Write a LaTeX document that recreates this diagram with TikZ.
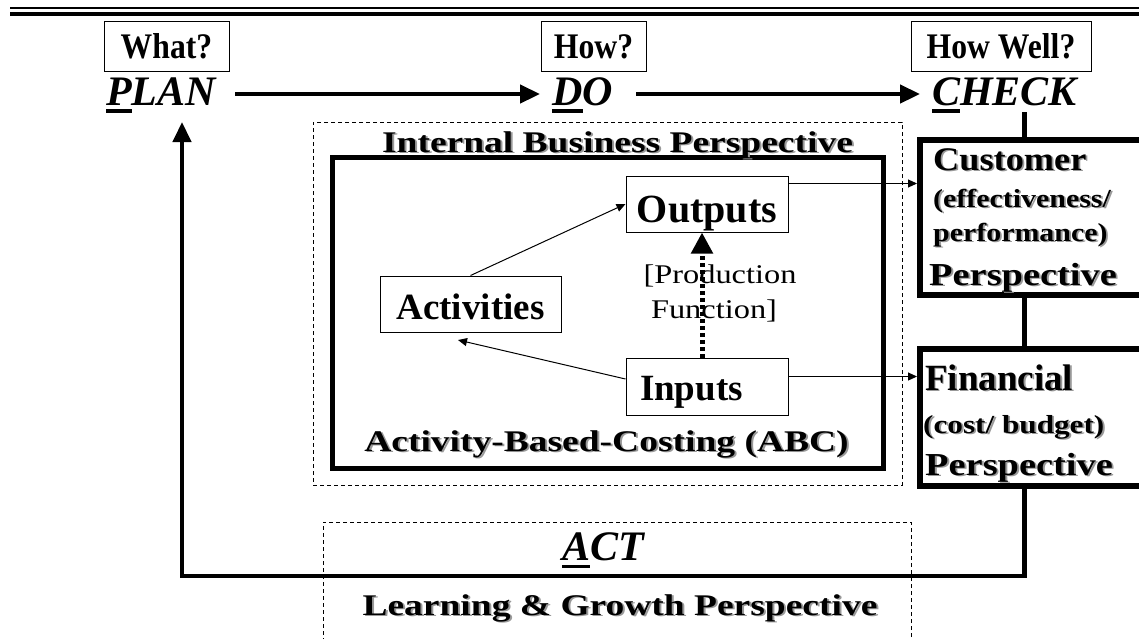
\documentclass[tikz,border=0pt]{standalone}
\usepackage{fontspec}
\setmainfont{Liberation Serif}
\usetikzlibrary{arrows.meta}
\newcommand{\fsz}[1]{\fontsize{#1}{#1}\selectfont}
\newcommand{\shd}[1]{\makebox[0pt][l]{\hspace{1.6pt}\raisebox{-1.6pt}{\textcolor{black!40}{#1}}}#1}
\newcommand{\ulbar}[2]{\setbox0\hbox{#2}\rlap{\rule[-8pt]{\wd0}{#1}}#2}
\tikzset{
  qbox/.style={draw, line width=1pt, inner sep=0pt, text height=25pt, text depth=0pt, font=\fsz{36}\bfseries},
  pdca/.style={inner sep=0pt, text height=22pt, text depth=0pt, anchor=base west, font=\fsz{42}\bfseries\itshape},
  ibox/.style={draw, line width=1pt, inner sep=0pt, text depth=0pt, font=\fsz{37}\bfseries},
  pbox/.style={draw, line width=6pt, inner sep=0pt},
  abcbox/.style={draw, line width=5pt, inner sep=0pt},
  dbox/.style={draw, line width=0.8pt, dash pattern=on 4pt off 3pt, inner sep=0pt},
  lbl/.style={inner sep=0pt, anchor=base},
  lblw/.style={inner sep=0pt, anchor=base west},
  heavy/.style={line width=4.5pt},
  bigarrow/.style={line width=4.5pt, -{Triangle[length=20pt,width=18pt]}},
  thinarrow/.style={line width=1pt, -{Triangle[length=9pt,width=8pt]}},
  dotarrow/.style={line width=5pt, dash pattern=on 4pt off 3pt, -{Triangle[length=21pt,width=21pt]}}
}
\begin{document}
\begin{tikzpicture}[x=1pt,y=-1pt]
\useasboundingbox (0,0) rectangle (1139,638);
\fill[white] (0,0) rectangle (1139,638);
\clip (0,0) rectangle (1139,638);
% header rule
\draw[line width=1.5pt] (10,8) -- (1139,8);
\draw[line width=4pt] (10,14) -- (1139,14);
% question boxes
\node[qbox, minimum width=125pt, minimum height=50pt] (what) at (166.5,46) {\scalebox{0.88}[1]{What?}};
\node[qbox, minimum width=105pt, minimum height=50pt] (how) at (593.5,46) {\scalebox{0.88}[1]{How?}};
\node[qbox, minimum width=180pt, minimum height=50pt] (howwell) at (1001,46) {\scalebox{0.88}[1]{How Well?}};
% PDCA words
\node[pdca] (plan) at (106,105) {\ulbar{4pt}{P}LAN};
\node[pdca] (do) at (552,105) {\ulbar{4pt}{D}O};
\node[pdca] (check) at (932,105) {\ulbar{4pt}{C}HECK};
\node[pdca] (act) at (562,560) {\ulbar{3.5pt}{A}CT};
% dashed perspective frames
\node[dbox, minimum width=589pt, minimum height=363pt] (ibp) at (607.5,303.5) {};
\node[dbox, minimum width=588pt, minimum height=150pt] (lg) at (617,597) {};
% ABC frame
\node[abcbox, minimum width=550.5pt, minimum height=310.5pt] (abc) at (607.75,312.75) {};
\node[lbl, font=\fsz{30}\bfseries] (ibplbl) at (617.5,152) {\scalebox{1.25}[1]{\shd{Internal Business Perspective}}};
\node[lbl, font=\fsz{30}\bfseries] (abclbl) at (606.5,451) {\scalebox{1.25}[1]{\shd{Activity-Based-Costing (ABC)}}};
\node[lbl, font=\fsz{30}\bfseries] (lglbl) at (620,615) {\scalebox{1.25}[1]{\shd{Learning \& Growth Perspective}}};
% inner boxes
\node[ibox, font=\fsz{40}\bfseries, text height=36pt, minimum width=162pt, minimum height=56pt] (outputs) at (707,204) {Outputs};
\node[ibox, text height=27pt, minimum width=162pt, minimum height=57pt, text width=134pt, inner xsep=14pt, align=left] (inputs) at (707,386.5) {Inputs};
\node[ibox, text height=30pt, minimum width=181pt, minimum height=56pt] (acts) at (470.5,304) {Activities};
\node[lbl, font=\fsz{27}] (prod1) at (720,283) {\scalebox{1.2}[1]{[Production}};
\node[lbl, font=\fsz{27}] (prod2) at (714,318) {\scalebox{1.2}[1]{Function]}};
% perspective boxes
\node[pbox, minimum width=240pt, minimum height=154.5pt] (cust) at (1040,217.25) {};
\node[pbox, minimum width=240pt, minimum height=137pt] (fin) at (1040,417) {};
\node[lblw, font=\fsz{33}\bfseries] (c1) at (933,170) {\scalebox{1.1}[1]{\shd{Customer}}};
\node[lblw, font=\fsz{26}\bfseries] (c2) at (933,207) {\scalebox{1.15}[1]{\shd{(effectiveness/}}};
\node[lblw, font=\fsz{26}\bfseries] (c3) at (933,241) {\scalebox{1.15}[1]{\shd{performance)}}};
\node[lblw, font=\fsz{32}\bfseries] (c4) at (929,285) {\scalebox{1.2}[1]{\shd{Perspective}}};
\node[lblw, font=\fsz{37}\bfseries] (f1) at (925,390) {\shd{Financial}};
\node[lblw, font=\fsz{26}\bfseries] (f2) at (923,433) {\scalebox{1.2}[1]{\shd{(cost/ budget)}}};
\node[lblw, font=\fsz{32}\bfseries] (f3) at (925,475) {\scalebox{1.2}[1]{\shd{Perspective}}};
% coordinates
\coordinate (spine) at (1024.5,0);
\coordinate (chk) at ([yshift=-7pt]check.south);
\coordinate (loopL) at (182,576);
\coordinate (planin) at (182,122);
\coordinate (actin) at (458,340);
\coordinate (o1) at ([yshift=-8pt]outputs.north east);
\coordinate (i1) at ([yshift=-19pt]inputs.north east);
\coordinate (ii) at ([yshift=7.5pt]inputs.west);
\coordinate (dotS) at ([xshift=-5pt]inputs.north);
\coordinate (dotE) at ([xshift=-5pt]outputs.south);
% connectors
\draw[bigarrow, shorten <=19pt, shorten >=12pt] (plan.east) -- (do.west);
\draw[bigarrow, shorten <=23pt, shorten >=12pt] (do.east) -- (check.west);
\draw[heavy] (chk -| spine) -- (cust.north -| spine);
\draw[heavy] (cust.south -| spine) -- (fin.north -| spine);
\draw[bigarrow] (fin.south -| spine) |- (loopL) -- (planin);
\draw[thinarrow] (acts.north) -- (outputs.west);
\draw[thinarrow] (ii) -- (actin);
\draw[thinarrow] (o1) -- (o1 -| cust.west);
\draw[thinarrow] (i1) -- (i1 -| fin.west);
\draw[dotarrow] (dotS) -- (dotE);
\end{tikzpicture}
\end{document}
